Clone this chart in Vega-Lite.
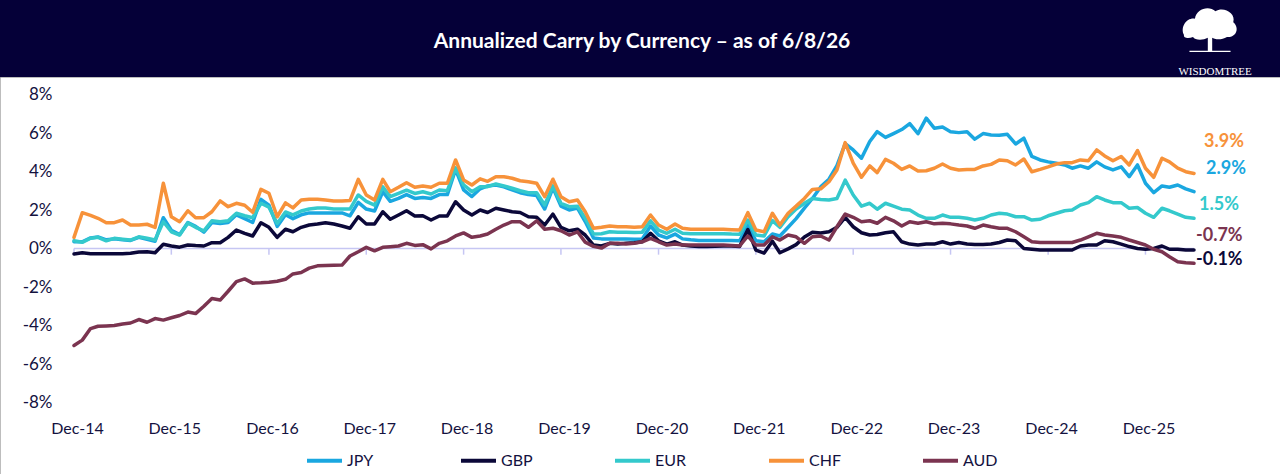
{
"$schema": "https://vega.github.io/schema/vega-lite/v6.json",
"width": 1280,
"height": 397,
"autosize": {"type": "none"},
"padding": {"top": 77, "left": 0, "right": 0, "bottom": 0},
"background": "#050038",
"title": {"text": "Annualized Carry by Currency – as of 6/8/26", "color": "#ffffff", "font": "Lato", "fontSize": 21, "fontWeight": "bold", "anchor": "middle", "frame": "group", "baseline": "alphabetic", "offset": -61, "dx": 2},
"config": {"view": {"fill": "#ffffff", "stroke": "#bdbdbd", "strokeWidth": 1}, "font": "Lato"},
"datasets": {
"lab": [
{"c": "CHF", "t": "3.9%", "v": 3.9},
{"c": "JPY", "t": "2.9%", "v": 2.9},
{"c": "EUR", "t": "1.5%", "v": 1.5},
{"c": "AUD", "t": "-0.7%", "v": -0.7},
{"c": "GBP", "t": "-0.1%", "v": -0.1}
]
},
"data": {"format": {"parse": {"d": "date"}}, "values": [
{"d":"2014-12","c":"JPY","v":0.35},
{"d":"2015-01","c":"JPY","v":0.35},{"d":"2015-02","c":"JPY","v":0.55},{"d":"2015-03","c":"JPY","v":0.60},{"d":"2015-04","c":"JPY","v":0.45},{"d":"2015-05","c":"JPY","v":0.50},{"d":"2015-06","c":"JPY","v":0.45},{"d":"2015-07","c":"JPY","v":0.42},{"d":"2015-08","c":"JPY","v":0.58},{"d":"2015-09","c":"JPY","v":0.48},{"d":"2015-10","c":"JPY","v":0.38},{"d":"2015-11","c":"JPY","v":1.60},{"d":"2015-12","c":"JPY","v":0.95},
{"d":"2016-01","c":"JPY","v":0.72},{"d":"2016-02","c":"JPY","v":1.35},{"d":"2016-03","c":"JPY","v":1.15},{"d":"2016-04","c":"JPY","v":0.85},{"d":"2016-05","c":"JPY","v":1.35},{"d":"2016-06","c":"JPY","v":1.30},{"d":"2016-07","c":"JPY","v":1.35},{"d":"2016-08","c":"JPY","v":1.75},{"d":"2016-09","c":"JPY","v":1.55},{"d":"2016-10","c":"JPY","v":1.35},{"d":"2016-11","c":"JPY","v":2.55},{"d":"2016-12","c":"JPY","v":2.25},
{"d":"2017-01","c":"JPY","v":1.15},{"d":"2017-02","c":"JPY","v":1.75},{"d":"2017-03","c":"JPY","v":1.55},{"d":"2017-04","c":"JPY","v":1.75},{"d":"2017-05","c":"JPY","v":1.85},{"d":"2017-06","c":"JPY","v":1.85},{"d":"2017-07","c":"JPY","v":1.85},{"d":"2017-08","c":"JPY","v":1.85},{"d":"2017-09","c":"JPY","v":1.85},{"d":"2017-10","c":"JPY","v":1.70},{"d":"2017-11","c":"JPY","v":2.40},{"d":"2017-12","c":"JPY","v":2.05},
{"d":"2018-01","c":"JPY","v":1.95},{"d":"2018-02","c":"JPY","v":2.95},{"d":"2018-03","c":"JPY","v":2.45},{"d":"2018-04","c":"JPY","v":2.60},{"d":"2018-05","c":"JPY","v":2.80},{"d":"2018-06","c":"JPY","v":2.60},{"d":"2018-07","c":"JPY","v":2.65},{"d":"2018-08","c":"JPY","v":2.60},{"d":"2018-09","c":"JPY","v":2.80},{"d":"2018-10","c":"JPY","v":2.80},{"d":"2018-11","c":"JPY","v":4.10},{"d":"2018-12","c":"JPY","v":3.05},
{"d":"2019-01","c":"JPY","v":2.70},{"d":"2019-02","c":"JPY","v":3.10},{"d":"2019-03","c":"JPY","v":3.25},{"d":"2019-04","c":"JPY","v":3.30},{"d":"2019-05","c":"JPY","v":3.20},{"d":"2019-06","c":"JPY","v":3.05},{"d":"2019-07","c":"JPY","v":2.90},{"d":"2019-08","c":"JPY","v":2.80},{"d":"2019-09","c":"JPY","v":2.75},{"d":"2019-10","c":"JPY","v":2.05},{"d":"2019-11","c":"JPY","v":3.15},{"d":"2019-12","c":"JPY","v":2.20},
{"d":"2020-01","c":"JPY","v":2.00},{"d":"2020-02","c":"JPY","v":2.10},{"d":"2020-03","c":"JPY","v":1.40},{"d":"2020-04","c":"JPY","v":0.55},{"d":"2020-05","c":"JPY","v":0.50},{"d":"2020-06","c":"JPY","v":0.50},{"d":"2020-07","c":"JPY","v":0.50},{"d":"2020-08","c":"JPY","v":0.50},{"d":"2020-09","c":"JPY","v":0.48},{"d":"2020-10","c":"JPY","v":0.50},{"d":"2020-11","c":"JPY","v":1.17},{"d":"2020-12","c":"JPY","v":0.70},
{"d":"2021-01","c":"JPY","v":0.55},{"d":"2021-02","c":"JPY","v":0.75},{"d":"2021-03","c":"JPY","v":0.50},{"d":"2021-04","c":"JPY","v":0.45},{"d":"2021-05","c":"JPY","v":0.42},{"d":"2021-06","c":"JPY","v":0.42},{"d":"2021-07","c":"JPY","v":0.42},{"d":"2021-08","c":"JPY","v":0.42},{"d":"2021-09","c":"JPY","v":0.42},{"d":"2021-10","c":"JPY","v":0.40},{"d":"2021-11","c":"JPY","v":1.20},{"d":"2021-12","c":"JPY","v":0.40},
{"d":"2022-01","c":"JPY","v":0.35},{"d":"2022-02","c":"JPY","v":0.75},{"d":"2022-03","c":"JPY","v":0.65},{"d":"2022-04","c":"JPY","v":1.10},{"d":"2022-05","c":"JPY","v":1.55},{"d":"2022-06","c":"JPY","v":2.10},{"d":"2022-07","c":"JPY","v":2.60},{"d":"2022-08","c":"JPY","v":3.20},{"d":"2022-09","c":"JPY","v":3.60},{"d":"2022-10","c":"JPY","v":4.30},{"d":"2022-11","c":"JPY","v":5.45},{"d":"2022-12","c":"JPY","v":5.12},
{"d":"2023-01","c":"JPY","v":4.69},{"d":"2023-02","c":"JPY","v":5.56},{"d":"2023-03","c":"JPY","v":6.07},{"d":"2023-04","c":"JPY","v":5.77},{"d":"2023-05","c":"JPY","v":5.97},{"d":"2023-06","c":"JPY","v":6.18},{"d":"2023-07","c":"JPY","v":6.49},{"d":"2023-08","c":"JPY","v":5.97},{"d":"2023-09","c":"JPY","v":6.77},{"d":"2023-10","c":"JPY","v":6.25},{"d":"2023-11","c":"JPY","v":6.31},{"d":"2023-12","c":"JPY","v":6.07},
{"d":"2024-01","c":"JPY","v":6.02},{"d":"2024-02","c":"JPY","v":6.07},{"d":"2024-03","c":"JPY","v":5.68},{"d":"2024-04","c":"JPY","v":5.97},{"d":"2024-05","c":"JPY","v":5.90},{"d":"2024-06","c":"JPY","v":5.88},{"d":"2024-07","c":"JPY","v":5.93},{"d":"2024-08","c":"JPY","v":5.43},{"d":"2024-09","c":"JPY","v":5.73},{"d":"2024-10","c":"JPY","v":4.78},{"d":"2024-11","c":"JPY","v":4.60},{"d":"2024-12","c":"JPY","v":4.50},
{"d":"2025-01","c":"JPY","v":4.43},{"d":"2025-02","c":"JPY","v":4.34},{"d":"2025-03","c":"JPY","v":4.17},{"d":"2025-04","c":"JPY","v":4.29},{"d":"2025-05","c":"JPY","v":4.17},{"d":"2025-06","c":"JPY","v":4.50},{"d":"2025-07","c":"JPY","v":4.24},{"d":"2025-08","c":"JPY","v":4.08},{"d":"2025-09","c":"JPY","v":4.24},{"d":"2025-10","c":"JPY","v":3.73},{"d":"2025-11","c":"JPY","v":4.34},{"d":"2025-12","c":"JPY","v":3.39},
{"d":"2026-01","c":"JPY","v":2.90},{"d":"2026-02","c":"JPY","v":3.25},{"d":"2026-03","c":"JPY","v":3.18},{"d":"2026-04","c":"JPY","v":3.30},{"d":"2026-05","c":"JPY","v":3.10},{"d":"2026-06","c":"JPY","v":2.95},
{"d":"2014-12","c":"GBP","v":-0.29},
{"d":"2015-01","c":"GBP","v":-0.22},{"d":"2015-02","c":"GBP","v":-0.27},{"d":"2015-03","c":"GBP","v":-0.27},{"d":"2015-04","c":"GBP","v":-0.27},{"d":"2015-05","c":"GBP","v":-0.27},{"d":"2015-06","c":"GBP","v":-0.27},{"d":"2015-07","c":"GBP","v":-0.25},{"d":"2015-08","c":"GBP","v":-0.18},{"d":"2015-09","c":"GBP","v":-0.17},{"d":"2015-10","c":"GBP","v":-0.22},{"d":"2015-11","c":"GBP","v":0.22},{"d":"2015-12","c":"GBP","v":0.13},
{"d":"2016-01","c":"GBP","v":0.07},{"d":"2016-02","c":"GBP","v":0.18},{"d":"2016-03","c":"GBP","v":0.15},{"d":"2016-04","c":"GBP","v":0.13},{"d":"2016-05","c":"GBP","v":0.30},{"d":"2016-06","c":"GBP","v":0.30},{"d":"2016-07","c":"GBP","v":0.58},{"d":"2016-08","c":"GBP","v":0.96},{"d":"2016-09","c":"GBP","v":0.79},{"d":"2016-10","c":"GBP","v":0.65},{"d":"2016-11","c":"GBP","v":1.34},{"d":"2016-12","c":"GBP","v":1.10},
{"d":"2017-01","c":"GBP","v":0.58},{"d":"2017-02","c":"GBP","v":1.00},{"d":"2017-03","c":"GBP","v":0.87},{"d":"2017-04","c":"GBP","v":1.10},{"d":"2017-05","c":"GBP","v":1.22},{"d":"2017-06","c":"GBP","v":1.27},{"d":"2017-07","c":"GBP","v":1.34},{"d":"2017-08","c":"GBP","v":1.27},{"d":"2017-09","c":"GBP","v":1.17},{"d":"2017-10","c":"GBP","v":1.05},{"d":"2017-11","c":"GBP","v":1.65},{"d":"2017-12","c":"GBP","v":1.27},
{"d":"2018-01","c":"GBP","v":1.27},{"d":"2018-02","c":"GBP","v":1.91},{"d":"2018-03","c":"GBP","v":1.52},{"d":"2018-04","c":"GBP","v":1.74},{"d":"2018-05","c":"GBP","v":1.96},{"d":"2018-06","c":"GBP","v":1.69},{"d":"2018-07","c":"GBP","v":1.70},{"d":"2018-08","c":"GBP","v":1.48},{"d":"2018-09","c":"GBP","v":1.69},{"d":"2018-10","c":"GBP","v":1.69},{"d":"2018-11","c":"GBP","v":2.43},{"d":"2018-12","c":"GBP","v":2.00},
{"d":"2019-01","c":"GBP","v":1.74},{"d":"2019-02","c":"GBP","v":2.00},{"d":"2019-03","c":"GBP","v":1.87},{"d":"2019-04","c":"GBP","v":2.09},{"d":"2019-05","c":"GBP","v":2.00},{"d":"2019-06","c":"GBP","v":1.91},{"d":"2019-07","c":"GBP","v":1.87},{"d":"2019-08","c":"GBP","v":1.65},{"d":"2019-09","c":"GBP","v":1.62},{"d":"2019-10","c":"GBP","v":1.22},{"d":"2019-11","c":"GBP","v":1.79},{"d":"2019-12","c":"GBP","v":1.10},
{"d":"2020-01","c":"GBP","v":0.92},{"d":"2020-02","c":"GBP","v":1.00},{"d":"2020-03","c":"GBP","v":0.70},{"d":"2020-04","c":"GBP","v":0.18},{"d":"2020-05","c":"GBP","v":0.13},{"d":"2020-06","c":"GBP","v":0.27},{"d":"2020-07","c":"GBP","v":0.23},{"d":"2020-08","c":"GBP","v":0.27},{"d":"2020-09","c":"GBP","v":0.30},{"d":"2020-10","c":"GBP","v":0.35},{"d":"2020-11","c":"GBP","v":0.79},{"d":"2020-12","c":"GBP","v":0.40},
{"d":"2021-01","c":"GBP","v":0.23},{"d":"2021-02","c":"GBP","v":0.35},{"d":"2021-03","c":"GBP","v":0.18},{"d":"2021-04","c":"GBP","v":0.13},{"d":"2021-05","c":"GBP","v":0.11},{"d":"2021-06","c":"GBP","v":0.10},{"d":"2021-07","c":"GBP","v":0.12},{"d":"2021-08","c":"GBP","v":0.13},{"d":"2021-09","c":"GBP","v":0.13},{"d":"2021-10","c":"GBP","v":0.10},{"d":"2021-11","c":"GBP","v":0.98},{"d":"2021-12","c":"GBP","v":-0.08},
{"d":"2022-01","c":"GBP","v":-0.24},{"d":"2022-02","c":"GBP","v":0.38},{"d":"2022-03","c":"GBP","v":-0.22},{"d":"2022-04","c":"GBP","v":-0.02},{"d":"2022-05","c":"GBP","v":0.20},{"d":"2022-06","c":"GBP","v":0.60},{"d":"2022-07","c":"GBP","v":0.85},{"d":"2022-08","c":"GBP","v":0.80},{"d":"2022-09","c":"GBP","v":0.87},{"d":"2022-10","c":"GBP","v":1.10},{"d":"2022-11","c":"GBP","v":1.62},{"d":"2022-12","c":"GBP","v":1.13},
{"d":"2023-01","c":"GBP","v":0.82},{"d":"2023-02","c":"GBP","v":0.70},{"d":"2023-03","c":"GBP","v":0.73},{"d":"2023-04","c":"GBP","v":0.82},{"d":"2023-05","c":"GBP","v":0.87},{"d":"2023-06","c":"GBP","v":0.35},{"d":"2023-07","c":"GBP","v":0.23},{"d":"2023-08","c":"GBP","v":0.18},{"d":"2023-09","c":"GBP","v":0.23},{"d":"2023-10","c":"GBP","v":0.23},{"d":"2023-11","c":"GBP","v":0.35},{"d":"2023-12","c":"GBP","v":0.23},
{"d":"2024-01","c":"GBP","v":0.31},{"d":"2024-02","c":"GBP","v":0.23},{"d":"2024-03","c":"GBP","v":0.21},{"d":"2024-04","c":"GBP","v":0.21},{"d":"2024-05","c":"GBP","v":0.23},{"d":"2024-06","c":"GBP","v":0.31},{"d":"2024-07","c":"GBP","v":0.44},{"d":"2024-08","c":"GBP","v":0.40},{"d":"2024-09","c":"GBP","v":0.00},{"d":"2024-10","c":"GBP","v":-0.04},{"d":"2024-11","c":"GBP","v":-0.08},{"d":"2024-12","c":"GBP","v":-0.08},
{"d":"2025-01","c":"GBP","v":-0.08},{"d":"2025-02","c":"GBP","v":-0.08},{"d":"2025-03","c":"GBP","v":-0.08},{"d":"2025-04","c":"GBP","v":0.13},{"d":"2025-05","c":"GBP","v":0.18},{"d":"2025-06","c":"GBP","v":0.18},{"d":"2025-07","c":"GBP","v":0.40},{"d":"2025-08","c":"GBP","v":0.35},{"d":"2025-09","c":"GBP","v":0.23},{"d":"2025-10","c":"GBP","v":0.10},{"d":"2025-11","c":"GBP","v":0.00},{"d":"2025-12","c":"GBP","v":-0.04},
{"d":"2026-01","c":"GBP","v":0.00},{"d":"2026-02","c":"GBP","v":0.13},{"d":"2026-03","c":"GBP","v":-0.04},{"d":"2026-04","c":"GBP","v":-0.04},{"d":"2026-05","c":"GBP","v":-0.08},{"d":"2026-06","c":"GBP","v":-0.08},
{"d":"2014-12","c":"EUR","v":0.40},
{"d":"2015-01","c":"EUR","v":0.32},{"d":"2015-02","c":"EUR","v":0.53},{"d":"2015-03","c":"EUR","v":0.58},{"d":"2015-04","c":"EUR","v":0.40},{"d":"2015-05","c":"EUR","v":0.53},{"d":"2015-06","c":"EUR","v":0.48},{"d":"2015-07","c":"EUR","v":0.44},{"d":"2015-08","c":"EUR","v":0.61},{"d":"2015-09","c":"EUR","v":0.53},{"d":"2015-10","c":"EUR","v":0.44},{"d":"2015-11","c":"EUR","v":1.39},{"d":"2015-12","c":"EUR","v":0.87},
{"d":"2016-01","c":"EUR","v":0.70},{"d":"2016-02","c":"EUR","v":1.33},{"d":"2016-03","c":"EUR","v":1.10},{"d":"2016-04","c":"EUR","v":0.92},{"d":"2016-05","c":"EUR","v":1.44},{"d":"2016-06","c":"EUR","v":1.39},{"d":"2016-07","c":"EUR","v":1.44},{"d":"2016-08","c":"EUR","v":1.83},{"d":"2016-09","c":"EUR","v":1.70},{"d":"2016-10","c":"EUR","v":1.60},{"d":"2016-11","c":"EUR","v":2.35},{"d":"2016-12","c":"EUR","v":2.15},
{"d":"2017-01","c":"EUR","v":1.30},{"d":"2017-02","c":"EUR","v":1.90},{"d":"2017-03","c":"EUR","v":1.75},{"d":"2017-04","c":"EUR","v":1.95},{"d":"2017-05","c":"EUR","v":2.05},{"d":"2017-06","c":"EUR","v":2.10},{"d":"2017-07","c":"EUR","v":2.10},{"d":"2017-08","c":"EUR","v":2.05},{"d":"2017-09","c":"EUR","v":2.05},{"d":"2017-10","c":"EUR","v":2.05},{"d":"2017-11","c":"EUR","v":2.78},{"d":"2017-12","c":"EUR","v":2.45},
{"d":"2018-01","c":"EUR","v":2.25},{"d":"2018-02","c":"EUR","v":3.20},{"d":"2018-03","c":"EUR","v":2.69},{"d":"2018-04","c":"EUR","v":2.86},{"d":"2018-05","c":"EUR","v":3.03},{"d":"2018-06","c":"EUR","v":2.86},{"d":"2018-07","c":"EUR","v":2.95},{"d":"2018-08","c":"EUR","v":2.83},{"d":"2018-09","c":"EUR","v":3.04},{"d":"2018-10","c":"EUR","v":3.00},{"d":"2018-11","c":"EUR","v":4.19},{"d":"2018-12","c":"EUR","v":3.30},
{"d":"2019-01","c":"EUR","v":2.95},{"d":"2019-02","c":"EUR","v":3.21},{"d":"2019-03","c":"EUR","v":3.21},{"d":"2019-04","c":"EUR","v":3.35},{"d":"2019-05","c":"EUR","v":3.25},{"d":"2019-06","c":"EUR","v":3.13},{"d":"2019-07","c":"EUR","v":3.00},{"d":"2019-08","c":"EUR","v":2.90},{"d":"2019-09","c":"EUR","v":2.90},{"d":"2019-10","c":"EUR","v":2.26},{"d":"2019-11","c":"EUR","v":3.25},{"d":"2019-12","c":"EUR","v":2.35},
{"d":"2020-01","c":"EUR","v":2.17},{"d":"2020-02","c":"EUR","v":2.20},{"d":"2020-03","c":"EUR","v":1.57},{"d":"2020-04","c":"EUR","v":0.75},{"d":"2020-05","c":"EUR","v":0.77},{"d":"2020-06","c":"EUR","v":0.87},{"d":"2020-07","c":"EUR","v":0.85},{"d":"2020-08","c":"EUR","v":0.85},{"d":"2020-09","c":"EUR","v":0.83},{"d":"2020-10","c":"EUR","v":0.85},{"d":"2020-11","c":"EUR","v":1.44},{"d":"2020-12","c":"EUR","v":0.96},
{"d":"2021-01","c":"EUR","v":0.79},{"d":"2021-02","c":"EUR","v":1.00},{"d":"2021-03","c":"EUR","v":0.79},{"d":"2021-04","c":"EUR","v":0.77},{"d":"2021-05","c":"EUR","v":0.77},{"d":"2021-06","c":"EUR","v":0.77},{"d":"2021-07","c":"EUR","v":0.77},{"d":"2021-08","c":"EUR","v":0.77},{"d":"2021-09","c":"EUR","v":0.75},{"d":"2021-10","c":"EUR","v":0.74},{"d":"2021-11","c":"EUR","v":1.48},{"d":"2021-12","c":"EUR","v":0.70},
{"d":"2022-01","c":"EUR","v":0.65},{"d":"2022-02","c":"EUR","v":1.45},{"d":"2022-03","c":"EUR","v":1.10},{"d":"2022-04","c":"EUR","v":1.65},{"d":"2022-05","c":"EUR","v":2.05},{"d":"2022-06","c":"EUR","v":2.35},{"d":"2022-07","c":"EUR","v":2.60},{"d":"2022-08","c":"EUR","v":2.55},{"d":"2022-09","c":"EUR","v":2.52},{"d":"2022-10","c":"EUR","v":2.60},{"d":"2022-11","c":"EUR","v":3.55},{"d":"2022-12","c":"EUR","v":2.78},
{"d":"2023-01","c":"EUR","v":2.20},{"d":"2023-02","c":"EUR","v":2.35},{"d":"2023-03","c":"EUR","v":2.04},{"d":"2023-04","c":"EUR","v":2.35},{"d":"2023-05","c":"EUR","v":2.20},{"d":"2023-06","c":"EUR","v":2.04},{"d":"2023-07","c":"EUR","v":2.00},{"d":"2023-08","c":"EUR","v":1.74},{"d":"2023-09","c":"EUR","v":1.57},{"d":"2023-10","c":"EUR","v":1.57},{"d":"2023-11","c":"EUR","v":1.74},{"d":"2023-12","c":"EUR","v":1.62},
{"d":"2024-01","c":"EUR","v":1.62},{"d":"2024-02","c":"EUR","v":1.57},{"d":"2024-03","c":"EUR","v":1.48},{"d":"2024-04","c":"EUR","v":1.57},{"d":"2024-05","c":"EUR","v":1.74},{"d":"2024-06","c":"EUR","v":1.83},{"d":"2024-07","c":"EUR","v":1.79},{"d":"2024-08","c":"EUR","v":1.65},{"d":"2024-09","c":"EUR","v":1.65},{"d":"2024-10","c":"EUR","v":1.48},{"d":"2024-11","c":"EUR","v":1.52},{"d":"2024-12","c":"EUR","v":1.70},
{"d":"2025-01","c":"EUR","v":1.83},{"d":"2025-02","c":"EUR","v":1.96},{"d":"2025-03","c":"EUR","v":2.00},{"d":"2025-04","c":"EUR","v":2.26},{"d":"2025-05","c":"EUR","v":2.38},{"d":"2025-06","c":"EUR","v":2.69},{"d":"2025-07","c":"EUR","v":2.52},{"d":"2025-08","c":"EUR","v":2.38},{"d":"2025-09","c":"EUR","v":2.38},{"d":"2025-10","c":"EUR","v":2.09},{"d":"2025-11","c":"EUR","v":2.13},{"d":"2025-12","c":"EUR","v":1.83},
{"d":"2026-01","c":"EUR","v":1.62},{"d":"2026-02","c":"EUR","v":2.09},{"d":"2026-03","c":"EUR","v":1.96},{"d":"2026-04","c":"EUR","v":1.79},{"d":"2026-05","c":"EUR","v":1.62},{"d":"2026-06","c":"EUR","v":1.57},
{"d":"2014-12","c":"CHF","v":0.58},
{"d":"2015-01","c":"CHF","v":1.86},{"d":"2015-02","c":"CHF","v":1.72},{"d":"2015-03","c":"CHF","v":1.57},{"d":"2015-04","c":"CHF","v":1.34},{"d":"2015-05","c":"CHF","v":1.34},{"d":"2015-06","c":"CHF","v":1.48},{"d":"2015-07","c":"CHF","v":1.22},{"d":"2015-08","c":"CHF","v":1.22},{"d":"2015-09","c":"CHF","v":1.26},{"d":"2015-10","c":"CHF","v":1.10},{"d":"2015-11","c":"CHF","v":3.39},{"d":"2015-12","c":"CHF","v":1.65},
{"d":"2016-01","c":"CHF","v":1.39},{"d":"2016-02","c":"CHF","v":1.96},{"d":"2016-03","c":"CHF","v":1.60},{"d":"2016-04","c":"CHF","v":1.60},{"d":"2016-05","c":"CHF","v":1.91},{"d":"2016-06","c":"CHF","v":2.47},{"d":"2016-07","c":"CHF","v":2.17},{"d":"2016-08","c":"CHF","v":2.35},{"d":"2016-09","c":"CHF","v":2.25},{"d":"2016-10","c":"CHF","v":1.88},{"d":"2016-11","c":"CHF","v":3.07},{"d":"2016-12","c":"CHF","v":2.87},
{"d":"2017-01","c":"CHF","v":1.65},{"d":"2017-02","c":"CHF","v":2.37},{"d":"2017-03","c":"CHF","v":2.11},{"d":"2017-04","c":"CHF","v":2.52},{"d":"2017-05","c":"CHF","v":2.56},{"d":"2017-06","c":"CHF","v":2.56},{"d":"2017-07","c":"CHF","v":2.52},{"d":"2017-08","c":"CHF","v":2.47},{"d":"2017-09","c":"CHF","v":2.47},{"d":"2017-10","c":"CHF","v":2.49},{"d":"2017-11","c":"CHF","v":3.59},{"d":"2017-12","c":"CHF","v":2.78},
{"d":"2018-01","c":"CHF","v":2.52},{"d":"2018-02","c":"CHF","v":3.59},{"d":"2018-03","c":"CHF","v":2.95},{"d":"2018-04","c":"CHF","v":3.18},{"d":"2018-05","c":"CHF","v":3.42},{"d":"2018-06","c":"CHF","v":3.18},{"d":"2018-07","c":"CHF","v":3.25},{"d":"2018-08","c":"CHF","v":3.18},{"d":"2018-09","c":"CHF","v":3.39},{"d":"2018-10","c":"CHF","v":3.39},{"d":"2018-11","c":"CHF","v":4.60},{"d":"2018-12","c":"CHF","v":3.56},
{"d":"2019-01","c":"CHF","v":3.30},{"d":"2019-02","c":"CHF","v":3.62},{"d":"2019-03","c":"CHF","v":3.49},{"d":"2019-04","c":"CHF","v":3.73},{"d":"2019-05","c":"CHF","v":3.73},{"d":"2019-06","c":"CHF","v":3.65},{"d":"2019-07","c":"CHF","v":3.52},{"d":"2019-08","c":"CHF","v":3.47},{"d":"2019-09","c":"CHF","v":3.39},{"d":"2019-10","c":"CHF","v":2.69},{"d":"2019-11","c":"CHF","v":3.60},{"d":"2019-12","c":"CHF","v":2.69},
{"d":"2020-01","c":"CHF","v":2.43},{"d":"2020-02","c":"CHF","v":2.52},{"d":"2020-03","c":"CHF","v":1.91},{"d":"2020-04","c":"CHF","v":1.05},{"d":"2020-05","c":"CHF","v":1.10},{"d":"2020-06","c":"CHF","v":1.17},{"d":"2020-07","c":"CHF","v":1.13},{"d":"2020-08","c":"CHF","v":1.13},{"d":"2020-09","c":"CHF","v":1.10},{"d":"2020-10","c":"CHF","v":1.13},{"d":"2020-11","c":"CHF","v":1.74},{"d":"2020-12","c":"CHF","v":1.22},
{"d":"2021-01","c":"CHF","v":1.00},{"d":"2021-02","c":"CHF","v":1.27},{"d":"2021-03","c":"CHF","v":1.05},{"d":"2021-04","c":"CHF","v":1.00},{"d":"2021-05","c":"CHF","v":1.00},{"d":"2021-06","c":"CHF","v":1.00},{"d":"2021-07","c":"CHF","v":1.00},{"d":"2021-08","c":"CHF","v":1.00},{"d":"2021-09","c":"CHF","v":0.98},{"d":"2021-10","c":"CHF","v":0.96},{"d":"2021-11","c":"CHF","v":1.86},{"d":"2021-12","c":"CHF","v":0.96},
{"d":"2022-01","c":"CHF","v":0.87},{"d":"2022-02","c":"CHF","v":1.83},{"d":"2022-03","c":"CHF","v":1.22},{"d":"2022-04","c":"CHF","v":1.83},{"d":"2022-05","c":"CHF","v":2.20},{"d":"2022-06","c":"CHF","v":2.60},{"d":"2022-07","c":"CHF","v":3.07},{"d":"2022-08","c":"CHF","v":3.10},{"d":"2022-09","c":"CHF","v":3.47},{"d":"2022-10","c":"CHF","v":4.08},{"d":"2022-11","c":"CHF","v":5.50},{"d":"2022-12","c":"CHF","v":4.43},
{"d":"2023-01","c":"CHF","v":3.70},{"d":"2023-02","c":"CHF","v":4.29},{"d":"2023-03","c":"CHF","v":3.94},{"d":"2023-04","c":"CHF","v":4.63},{"d":"2023-05","c":"CHF","v":4.43},{"d":"2023-06","c":"CHF","v":4.11},{"d":"2023-07","c":"CHF","v":4.29},{"d":"2023-08","c":"CHF","v":4.03},{"d":"2023-09","c":"CHF","v":4.04},{"d":"2023-10","c":"CHF","v":4.17},{"d":"2023-11","c":"CHF","v":4.39},{"d":"2023-12","c":"CHF","v":4.17},
{"d":"2024-01","c":"CHF","v":4.08},{"d":"2024-02","c":"CHF","v":4.11},{"d":"2024-03","c":"CHF","v":4.11},{"d":"2024-04","c":"CHF","v":4.29},{"d":"2024-05","c":"CHF","v":4.37},{"d":"2024-06","c":"CHF","v":4.60},{"d":"2024-07","c":"CHF","v":4.56},{"d":"2024-08","c":"CHF","v":4.34},{"d":"2024-09","c":"CHF","v":4.65},{"d":"2024-10","c":"CHF","v":3.99},{"d":"2024-11","c":"CHF","v":4.11},{"d":"2024-12","c":"CHF","v":4.24},
{"d":"2025-01","c":"CHF","v":4.39},{"d":"2025-02","c":"CHF","v":4.46},{"d":"2025-03","c":"CHF","v":4.46},{"d":"2025-04","c":"CHF","v":4.60},{"d":"2025-05","c":"CHF","v":4.56},{"d":"2025-06","c":"CHF","v":5.12},{"d":"2025-07","c":"CHF","v":4.81},{"d":"2025-08","c":"CHF","v":4.56},{"d":"2025-09","c":"CHF","v":4.78},{"d":"2025-10","c":"CHF","v":4.34},{"d":"2025-11","c":"CHF","v":5.09},{"d":"2025-12","c":"CHF","v":4.17},
{"d":"2026-01","c":"CHF","v":3.70},{"d":"2026-02","c":"CHF","v":4.69},{"d":"2026-03","c":"CHF","v":4.50},{"d":"2026-04","c":"CHF","v":4.17},{"d":"2026-05","c":"CHF","v":3.99},{"d":"2026-06","c":"CHF","v":3.90},
{"d":"2014-12","c":"AUD","v":-5.04},
{"d":"2015-01","c":"AUD","v":-4.76},{"d":"2015-02","c":"AUD","v":-4.16},{"d":"2015-03","c":"AUD","v":-4.04},{"d":"2015-04","c":"AUD","v":-4.02},{"d":"2015-05","c":"AUD","v":-4.00},{"d":"2015-06","c":"AUD","v":-3.92},{"d":"2015-07","c":"AUD","v":-3.87},{"d":"2015-08","c":"AUD","v":-3.69},{"d":"2015-09","c":"AUD","v":-3.83},{"d":"2015-10","c":"AUD","v":-3.64},{"d":"2015-11","c":"AUD","v":-3.72},{"d":"2015-12","c":"AUD","v":-3.60},
{"d":"2016-01","c":"AUD","v":-3.48},{"d":"2016-02","c":"AUD","v":-3.30},{"d":"2016-03","c":"AUD","v":-3.38},{"d":"2016-04","c":"AUD","v":-3.00},{"d":"2016-05","c":"AUD","v":-2.60},{"d":"2016-06","c":"AUD","v":-2.68},{"d":"2016-07","c":"AUD","v":-2.22},{"d":"2016-08","c":"AUD","v":-1.72},{"d":"2016-09","c":"AUD","v":-1.58},{"d":"2016-10","c":"AUD","v":-1.80},{"d":"2016-11","c":"AUD","v":-1.78},{"d":"2016-12","c":"AUD","v":-1.75},
{"d":"2017-01","c":"AUD","v":-1.70},{"d":"2017-02","c":"AUD","v":-1.60},{"d":"2017-03","c":"AUD","v":-1.32},{"d":"2017-04","c":"AUD","v":-1.25},{"d":"2017-05","c":"AUD","v":-1.02},{"d":"2017-06","c":"AUD","v":-0.90},{"d":"2017-07","c":"AUD","v":-0.88},{"d":"2017-08","c":"AUD","v":-0.87},{"d":"2017-09","c":"AUD","v":-0.86},{"d":"2017-10","c":"AUD","v":-0.39},{"d":"2017-11","c":"AUD","v":-0.17},{"d":"2017-12","c":"AUD","v":0.06},
{"d":"2018-01","c":"AUD","v":-0.12},{"d":"2018-02","c":"AUD","v":0.06},{"d":"2018-03","c":"AUD","v":0.09},{"d":"2018-04","c":"AUD","v":0.13},{"d":"2018-05","c":"AUD","v":0.27},{"d":"2018-06","c":"AUD","v":0.16},{"d":"2018-07","c":"AUD","v":0.20},{"d":"2018-08","c":"AUD","v":-0.02},{"d":"2018-09","c":"AUD","v":0.27},{"d":"2018-10","c":"AUD","v":0.40},{"d":"2018-11","c":"AUD","v":0.65},{"d":"2018-12","c":"AUD","v":0.81},
{"d":"2019-01","c":"AUD","v":0.58},{"d":"2019-02","c":"AUD","v":0.65},{"d":"2019-03","c":"AUD","v":0.75},{"d":"2019-04","c":"AUD","v":1.00},{"d":"2019-05","c":"AUD","v":1.22},{"d":"2019-06","c":"AUD","v":1.39},{"d":"2019-07","c":"AUD","v":1.39},{"d":"2019-08","c":"AUD","v":1.10},{"d":"2019-09","c":"AUD","v":1.44},{"d":"2019-10","c":"AUD","v":1.00},{"d":"2019-11","c":"AUD","v":1.05},{"d":"2019-12","c":"AUD","v":0.92},
{"d":"2020-01","c":"AUD","v":0.70},{"d":"2020-02","c":"AUD","v":0.87},{"d":"2020-03","c":"AUD","v":0.33},{"d":"2020-04","c":"AUD","v":0.11},{"d":"2020-05","c":"AUD","v":0.02},{"d":"2020-06","c":"AUD","v":0.27},{"d":"2020-07","c":"AUD","v":0.27},{"d":"2020-08","c":"AUD","v":0.23},{"d":"2020-09","c":"AUD","v":0.27},{"d":"2020-10","c":"AUD","v":0.35},{"d":"2020-11","c":"AUD","v":0.53},{"d":"2020-12","c":"AUD","v":0.35},
{"d":"2021-01","c":"AUD","v":0.18},{"d":"2021-02","c":"AUD","v":0.23},{"d":"2021-03","c":"AUD","v":0.18},{"d":"2021-04","c":"AUD","v":0.18},{"d":"2021-05","c":"AUD","v":0.18},{"d":"2021-06","c":"AUD","v":0.18},{"d":"2021-07","c":"AUD","v":0.18},{"d":"2021-08","c":"AUD","v":0.18},{"d":"2021-09","c":"AUD","v":0.15},{"d":"2021-10","c":"AUD","v":0.13},{"d":"2021-11","c":"AUD","v":0.65},{"d":"2021-12","c":"AUD","v":0.18},
{"d":"2022-01","c":"AUD","v":0.18},{"d":"2022-02","c":"AUD","v":0.61},{"d":"2022-03","c":"AUD","v":0.44},{"d":"2022-04","c":"AUD","v":0.70},{"d":"2022-05","c":"AUD","v":0.61},{"d":"2022-06","c":"AUD","v":0.27},{"d":"2022-07","c":"AUD","v":0.61},{"d":"2022-08","c":"AUD","v":0.65},{"d":"2022-09","c":"AUD","v":0.44},{"d":"2022-10","c":"AUD","v":1.13},{"d":"2022-11","c":"AUD","v":1.79},{"d":"2022-12","c":"AUD","v":1.62},
{"d":"2023-01","c":"AUD","v":1.39},{"d":"2023-02","c":"AUD","v":1.44},{"d":"2023-03","c":"AUD","v":1.31},{"d":"2023-04","c":"AUD","v":1.62},{"d":"2023-05","c":"AUD","v":1.44},{"d":"2023-06","c":"AUD","v":1.17},{"d":"2023-07","c":"AUD","v":1.39},{"d":"2023-08","c":"AUD","v":1.31},{"d":"2023-09","c":"AUD","v":1.39},{"d":"2023-10","c":"AUD","v":1.28},{"d":"2023-11","c":"AUD","v":1.31},{"d":"2023-12","c":"AUD","v":1.28},
{"d":"2024-01","c":"AUD","v":1.22},{"d":"2024-02","c":"AUD","v":1.17},{"d":"2024-03","c":"AUD","v":1.05},{"d":"2024-04","c":"AUD","v":1.22},{"d":"2024-05","c":"AUD","v":1.13},{"d":"2024-06","c":"AUD","v":1.05},{"d":"2024-07","c":"AUD","v":1.05},{"d":"2024-08","c":"AUD","v":0.87},{"d":"2024-09","c":"AUD","v":0.61},{"d":"2024-10","c":"AUD","v":0.35},{"d":"2024-11","c":"AUD","v":0.31},{"d":"2024-12","c":"AUD","v":0.31},
{"d":"2025-01","c":"AUD","v":0.31},{"d":"2025-02","c":"AUD","v":0.31},{"d":"2025-03","c":"AUD","v":0.31},{"d":"2025-04","c":"AUD","v":0.44},{"d":"2025-05","c":"AUD","v":0.61},{"d":"2025-06","c":"AUD","v":0.79},{"d":"2025-07","c":"AUD","v":0.70},{"d":"2025-08","c":"AUD","v":0.65},{"d":"2025-09","c":"AUD","v":0.58},{"d":"2025-10","c":"AUD","v":0.44},{"d":"2025-11","c":"AUD","v":0.31},{"d":"2025-12","c":"AUD","v":0.18},
{"d":"2026-01","c":"AUD","v":-0.04},{"d":"2026-02","c":"AUD","v":-0.17},{"d":"2026-03","c":"AUD","v":-0.43},{"d":"2026-04","c":"AUD","v":-0.69},{"d":"2026-05","c":"AUD","v":-0.74},{"d":"2026-06","c":"AUD","v":-0.77}
]},
"layer": [
{
"mark": {"type": "rule", "color": "#c6c6f3", "strokeWidth": 1.5},
"encoding": {
"x": {"aggregate": "min", "field": "d", "type": "temporal", "title": null},
"x2": {"aggregate": "max", "field": "d"},
"y": {"datum": 0, "type": "quantitative"}
}
},
{
"transform": [{"filter": "utcmonth(datum.d) == 11 && datum.c == 'JPY'"}],
"mark": {"type": "rule", "color": "#c6c6f3", "strokeWidth": 1.5},
"encoding": {
"x": {"field": "d", "type": "temporal", "title": null},
"y": {"datum": 0, "type": "quantitative"},
"y2": {"datum": -0.32}
}
},
{
"mark": {"type": "line", "strokeWidth": 3.5, "strokeJoin": "round", "strokeCap": "round"},
"encoding": {
"x": {"field": "d", "type": "temporal", "title": null,
"scale": {"type": "utc", "domain": [{"year": 2014, "month": 12, "date": 1, "utc": true}, {"year": 2026, "month": 6, "date": 1, "utc": true}], "range": [74, 1194]},
"axis": {"orient": "bottom", "offset": -54, "format": "%b-%y", "labelFont": "Lato", "labelFontSize": 16, "labelColor": "#14123f", "labelPadding": 0, "ticks": false, "tickSize": 0, "domain": false, "grid": false, "labelOffset": 3, "labelFlush": false, "labelOverlap": false,
"values": [{"year": 2014, "month": 12, "date": 1, "utc": true}, {"year": 2015, "month": 12, "date": 1, "utc": true}, {"year": 2016, "month": 12, "date": 1, "utc": true}, {"year": 2017, "month": 12, "date": 1, "utc": true}, {"year": 2018, "month": 12, "date": 1, "utc": true}, {"year": 2019, "month": 12, "date": 1, "utc": true}, {"year": 2020, "month": 12, "date": 1, "utc": true}, {"year": 2021, "month": 12, "date": 1, "utc": true}, {"year": 2022, "month": 12, "date": 1, "utc": true}, {"year": 2023, "month": 12, "date": 1, "utc": true}, {"year": 2024, "month": 12, "date": 1, "utc": true}, {"year": 2025, "month": 12, "date": 1, "utc": true}]}},
"y": {"field": "v", "type": "quantitative", "title": null,
"scale": {"domain": [-8, 8], "range": [325.5, 17.5], "nice": false, "zero": false},
"axis": {"orient": "left", "offset": -52, "values": [-8, -6, -4, -2, 0, 2, 4, 6, 8], "labelExpr": "datum.value + '%'", "labelFont": "Lato", "labelFontSize": 17, "labelColor": "#14123f", "ticks": false, "tickSize": 0, "domain": false, "grid": false, "labelPadding": 0}},
"color": {"field": "c", "type": "nominal",
"scale": {"domain": ["JPY", "GBP", "EUR", "CHF", "AUD"], "range": ["#1aa7e0", "#0b0839", "#34c9cc", "#f7923a", "#7b3450"]},
"legend": {"orient": "none", "legendX": 305, "legendY": 364, "direction": "horizontal", "columns": 5, "gridAlign": "all", "columnPadding": 71, "symbolType": "stroke", "symbolSize": 1225, "symbolStrokeWidth": 4, "labelFont": "Lato", "labelFontSize": 16, "labelColor": "#14123f", "title": null, "padding": 0, "labelOffset": 3}}
}
},
{
"data": {"name": "lab"},
"transform": [{"filter": "datum.c == 'CHF'"}],
"mark": {"type": "text", "align": "left", "baseline": "middle", "font": "Lato", "fontWeight": "bold", "fontSize": 18, "dx": 10, "dy": -31, "color": "#f7923a"},
"encoding": {"x": {"datum": {"year": 2026, "month": 6, "date": 1, "utc": true}, "type": "temporal"}, "y": {"field": "v", "type": "quantitative"}, "text": {"field": "t"}}
},
{
"data": {"name": "lab"},
"transform": [{"filter": "datum.c == 'JPY'"}],
"mark": {"type": "text", "align": "left", "baseline": "middle", "font": "Lato", "fontWeight": "bold", "fontSize": 18, "dx": 12, "dy": -24, "color": "#1aa7e0"},
"encoding": {"x": {"datum": {"year": 2026, "month": 6, "date": 1, "utc": true}, "type": "temporal"}, "y": {"field": "v", "type": "quantitative"}, "text": {"field": "t"}}
},
{
"data": {"name": "lab"},
"transform": [{"filter": "datum.c == 'EUR'"}],
"mark": {"type": "text", "align": "left", "baseline": "middle", "font": "Lato", "fontWeight": "bold", "fontSize": 18, "dx": 5, "dy": -15, "color": "#34c9cc"},
"encoding": {"x": {"datum": {"year": 2026, "month": 6, "date": 1, "utc": true}, "type": "temporal"}, "y": {"field": "v", "type": "quantitative"}, "text": {"field": "t"}}
},
{
"data": {"name": "lab"},
"transform": [{"filter": "datum.c == 'AUD'"}],
"mark": {"type": "text", "align": "left", "baseline": "middle", "font": "Lato", "fontWeight": "bold", "fontSize": 18, "dx": 2, "dy": -26, "color": "#7b3450"},
"encoding": {"x": {"datum": {"year": 2026, "month": 6, "date": 1, "utc": true}, "type": "temporal"}, "y": {"field": "v", "type": "quantitative"}, "text": {"field": "t"}}
},
{
"data": {"name": "lab"},
"transform": [{"filter": "datum.c == 'GBP'"}],
"mark": {"type": "text", "align": "left", "baseline": "middle", "font": "Lato", "fontWeight": "bold", "fontSize": 18, "dx": 2, "dy": 10, "color": "#0b0839"},
"encoding": {"x": {"datum": {"year": 2026, "month": 6, "date": 1, "utc": true}, "type": "temporal"}, "y": {"field": "v", "type": "quantitative"}, "text": {"field": "t"}}
},
{
"data": {"values": [{"t": "logo"}]},
"mark": {"type": "point", "filled": true, "color": "#ffffff", "opacity": 1, "size": 3000,
"shape": "M-0.95,0.15 C-1.1,-0.15 -0.85,-0.5 -0.55,-0.45 C-0.5,-0.8 -0.05,-0.95 0.2,-0.72 C0.5,-0.9 0.95,-0.65 0.85,-0.32 C1.1,-0.1 0.95,0.25 0.62,0.22 C0.4,0.36 0.15,0.3 0.08,0.25 L0.08,0.72 L-0.08,0.72 L-0.08,0.25 C-0.25,0.35 -0.55,0.35 -0.62,0.22 C-0.8,0.3 -0.98,0.25 -0.95,0.15 Z M-0.75,0.72 L0.75,0.72 L0.75,0.77 L-0.75,0.77 Z"},
"encoding": {"x": {"datum": {"year": 2026, "month": 7, "date": 31, "utc": true}, "type": "temporal"}, "y": {"datum": 11.3, "type": "quantitative"}}
},
{
"data": {"values": [{"t": "WISDOMTREE"}]},
"mark": {"type": "text", "font": "Liberation Serif", "fontSize": 11, "color": "#ffffff", "align": "center", "baseline": "middle"},
"encoding": {"x": {"datum": {"year": 2026, "month": 8, "date": 19, "utc": true}, "type": "temporal"}, "y": {"datum": 9.17, "type": "quantitative"}, "text": {"field": "t"}}
}
]
}
